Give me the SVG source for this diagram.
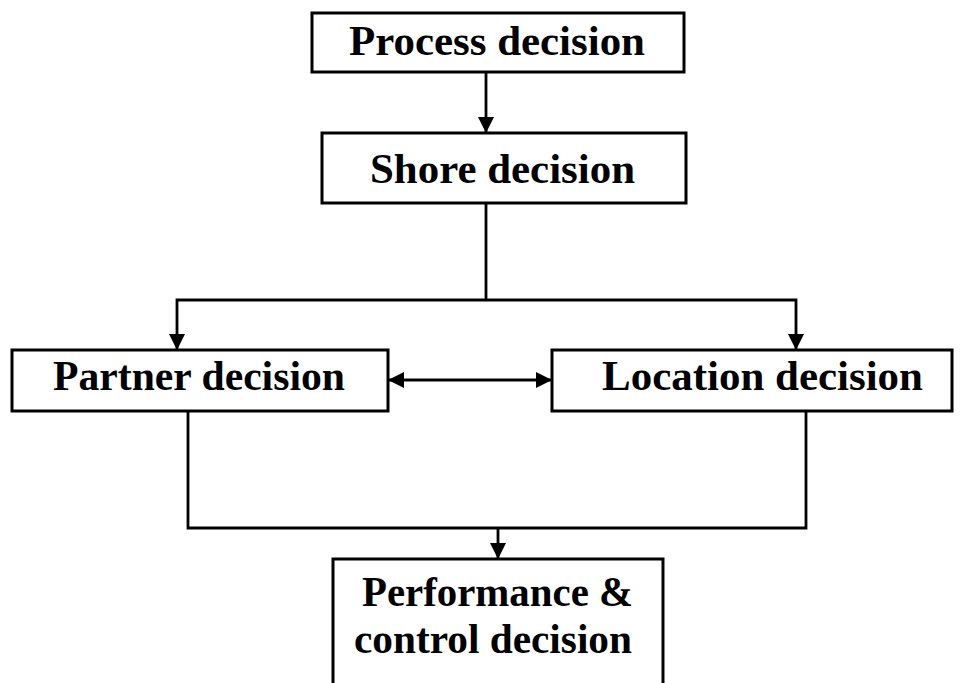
<svg xmlns="http://www.w3.org/2000/svg" width="962" height="683" viewBox="0 0 962 683">
<style>
.box{fill:#fff;stroke:#000;stroke-width:3}
.lbl{font-family:"Liberation Serif","Times New Roman",serif;font-weight:bold;font-size:42px;fill:#000}
.con{fill:none;stroke:#000;stroke-width:2.8}
</style>
<defs>
<marker id="ah" markerUnits="userSpaceOnUse" markerWidth="18" markerHeight="16" refX="16" refY="8" orient="auto-start-reverse">
<path d="M0,0 L16,8 L0,16 Z" fill="#000"/>
</marker>
</defs>
<rect width="962" height="683" fill="#fff"/>
<g id="connectors">
<line class="con" x1="486" y1="72" x2="486" y2="133" marker-end="url(#ah)"/>
<polyline class="con" points="486,203 486,300"/>
<polyline class="con" points="177,350 177,300 796,300 796,350" marker-start="url(#ah)" marker-end="url(#ah)"/>
<line class="con" x1="388" y1="380" x2="552" y2="380" marker-start="url(#ah)" marker-end="url(#ah)"/>
<polyline class="con" points="188,411 188,528 806,528 806,411"/>
<line class="con" x1="498" y1="528" x2="498" y2="559" marker-end="url(#ah)"/>
</g>
<g id="process">
<rect class="box" x="312" y="13" width="372" height="59"/>
<text class="lbl" x="349" y="55" textLength="296" lengthAdjust="spacingAndGlyphs">Process decision</text>
</g>
<g id="shore">
<rect class="box" x="322" y="133" width="364" height="70"/>
<text class="lbl" x="370" y="183" textLength="265" lengthAdjust="spacingAndGlyphs">Shore  decision</text>
</g>
<g id="partner">
<rect class="box" x="12" y="350" width="376" height="61"/>
<text class="lbl" x="53" y="390" textLength="292" lengthAdjust="spacingAndGlyphs">Partner decision</text>
</g>
<g id="location">
<rect class="box" x="552" y="350" width="400" height="61"/>
<text class="lbl" x="602" y="390" textLength="321" lengthAdjust="spacingAndGlyphs">Location decision</text>
</g>
<g id="performance">
<rect class="box" x="333" y="559" width="330" height="140"/>
<text class="lbl" x="362" y="606" textLength="271" lengthAdjust="spacingAndGlyphs">Performance &amp;</text>
<text class="lbl" x="354" y="653" textLength="278" lengthAdjust="spacingAndGlyphs">control decision</text>
</g>
</svg>
